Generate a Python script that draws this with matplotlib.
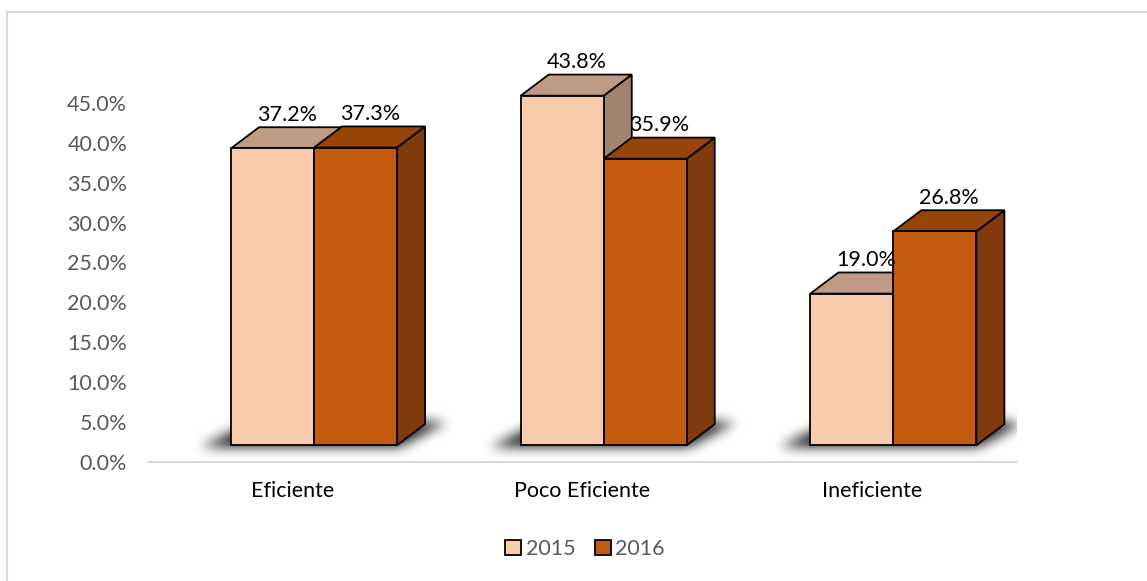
import matplotlib.pyplot as plt
from matplotlib.patches import Polygon, Patch
from matplotlib.lines import Line2D
from matplotlib.path import Path
import numpy as np

plt.rcParams['font.family'] = ['Lato', 'DejaVu Sans']

categories = ['Eficiente', 'Poco Eficiente', 'Ineficiente']
years = ['2015', '2016']
v2015 = [37.2, 43.8, 19.0]
v2016 = [37.3, 35.9, 26.8]

# colours: front, top, side
col_2015 = ['#F8CBAD', '#BF9A84', '#A2836F']
col_2016 = ['#C55A11', '#974409', '#813A0C']

fig = plt.figure(figsize=(11.47, 5.81), dpi=100)
ax = fig.add_axes([148 / 1147, 119 / 581, 869 / 1147, 399 / 581])
ax.set_xlim(-0.5, 2.5)
ax.set_ylim(0, 50)

# 3d look (data units)
bw = 0.2865
shift = 0.073
dx, dy = 0.097, 2.65
base = 2.1
px_x = 3 / 869.0   # one pixel in x data units
px_y = 50 / 399.0  # one pixel in y data units


def draw_box(x0, v, cols, z):
    x1 = x0 + bw
    top = base + v
    front = Polygon([(x0, base), (x1, base), (x1, top), (x0, top)],
                    closed=True, fc=cols[0], ec='black', lw=1.3, zorder=z)
    lid = Polygon([(x0, top), (x1, top), (x1 + dx, top + dy), (x0 + dx, top + dy)],
                  closed=True, fc=cols[1], ec='black', lw=1.3, zorder=z)
    side = Polygon([(x1, base), (x1 + dx, base + dy), (x1 + dx, top + dy), (x1, top)],
                   closed=True, fc=cols[2], ec='black', lw=1.3, zorder=z)
    for p in (side, lid, front):
        ax.add_patch(p)


# soft floor shadows, rendered as a blurred mask image
nx, ny = 869, 399
gx = np.linspace(-0.5, 2.5, nx)
gy = np.linspace(0, 50, ny)
GX, GY = np.meshgrid(gx, gy)
pts = np.column_stack([GX.ravel(), GY.ravel()])
mask = np.zeros(GX.size)
for i in range(len(categories)):
    x0 = i + shift - bw
    x1 = i + shift + bw
    shape = Path([(x0 - 30 * px_x, base - 2 * px_y),
                  (x1 + 2 * px_x, base - 2 * px_y),
                  (x1 + dx + 22 * px_x, base + dy + 2 * px_y),
                  (x0 + dx - 6 * px_x, base + dy + 2 * px_y)])
    mask[shape.contains_points(pts)] = 1.0
mask = mask.reshape(ny, nx)
k = np.exp(-0.5 * (np.arange(-18, 19) / 6.0) ** 2)
k /= k.sum()
mask = np.apply_along_axis(lambda r: np.convolve(r, k, mode='same'), 1, mask)
mask = np.apply_along_axis(lambda c: np.convolve(c, k, mode='same'), 0, mask)
rgba = np.zeros((ny, nx, 4))
rgba[..., 3] = np.clip(mask * 0.9, 0, 0.75)
ax.imshow(rgba, extent=(-0.5, 2.5, 0, 50), origin='lower', aspect='auto',
          zorder=1, interpolation='bilinear')

for i in range(len(categories)):
    xa = i + shift - bw
    xb = i + shift
    draw_box(xa, v2015[i], col_2015, 3 + i * 2)
    draw_box(xb, v2016[i], col_2016, 4 + i * 2)
    for x0, v in ((xa, v2015[i]), (xb, v2016[i])):
        ax.text(x0 + bw / 2 + 0.05, base + v + dy + 0.3, f'{v:.1f}%',
                ha='center', va='bottom', fontsize=15.5, color='black', zorder=20)

ax.set_xlim(-0.5, 2.5)
ax.set_ylim(0, 50)
yt = np.arange(0, 50, 5)
ax.set_yticks(yt)
ax.set_yticklabels([f'{t:.1f}%' for t in yt], color='#595959', fontsize=15.5)
ax.set_xticks(range(len(categories)))
ax.set_xticklabels(categories, fontsize=15.5, color='black')
ax.tick_params(length=0)
ax.tick_params(axis='y', pad=15)
ax.tick_params(axis='x', pad=14)
for s in ('top', 'right', 'left'):
    ax.spines[s].set_visible(False)
ax.spines['bottom'].set_color('#D9D9D9')
ax.spines['bottom'].set_linewidth(1.5)

handles = [Patch(fc=col_2015[0], ec='black', lw=1.3),
           Patch(fc=col_2016[0], ec='black', lw=1.3)]
fig.legend(handles, years, loc='center', bbox_to_anchor=(0.51, 0.055), ncol=2,
           frameon=False, fontsize=15.5, handlelength=0.75, handleheight=0.75,
           handletextpad=0.2, columnspacing=0.9, labelcolor='#595959')

# chart-area border
fig.add_artist(Line2D([7 / 1147, 7 / 1147], [0, 1 - 12 / 581], color='#D9D9D9', lw=1.5))
fig.add_artist(Line2D([7 / 1147, 1], [1 - 12 / 581, 1 - 12 / 581], color='#D9D9D9', lw=1.5))

fig.savefig('out.png', dpi=100)
